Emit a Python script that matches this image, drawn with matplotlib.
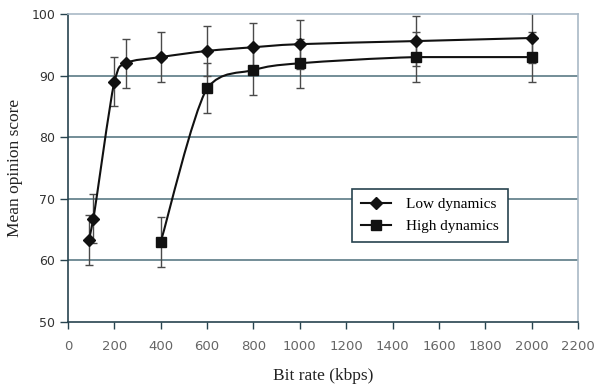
import matplotlib.pyplot as plt
import numpy as np
from matplotlib.path import Path
from matplotlib.patches import PathPatch
from matplotlib.lines import Line2D

# data
low_rate = [90, 110, 200, 250, 400, 600, 800, 1000, 1500, 2000]
low_mos = [63.3, 66.8, 89.0, 92.0, 93.0, 94.0, 94.6, 95.1, 95.6, 96.1]
low_err = [4, 4, 4, 4, 4, 4, 4, 4, 4, 4]

high_rate = [400, 600, 800, 1000, 1500, 2000]
high_mos = [63.0, 88.0, 90.9, 92.0, 93.0, 93.0]
high_err = [4, 4, 4, 4, 4, 4]

x_ticks = list(range(0, 2201, 200))
y_ticks = [50, 60, 70, 80, 90, 100]

AX_DARK = '#27434f'
GRID = '#5b7a85'


def smooth_path(xs, ys):
    # excel-like smoothed line: catmull-rom bezier, control points kept
    # inside the segment's y range so the curve does not overshoot
    pts = np.column_stack([xs, ys]).astype(float)
    n = len(pts)
    verts = [pts[0]]
    codes = [Path.MOVETO]
    for i in range(n - 1):
        p0 = pts[i - 1] if i > 0 else pts[i]
        p1 = pts[i]
        p2 = pts[i + 1]
        p3 = pts[i + 2] if i + 2 < n else pts[i + 1]
        c1 = p1 + (p2 - p0) / 6.0
        c2 = p2 - (p3 - p1) / 6.0
        lo, hi = min(p1[1], p2[1]), max(p1[1], p2[1])
        c1[1] = np.clip(c1[1], lo, hi)
        c2[1] = np.clip(c2[1], lo, hi)
        verts.extend([c1, c2, p2])
        codes.extend([Path.CURVE4] * 3)
    return Path(verts, codes)


fig = plt.figure(figsize=(5.96, 3.88), dpi=100, facecolor='white')
ax = fig.add_axes([0.114, 0.170, 0.856, 0.794])

ax.set_xlim(0, 2200)
ax.set_ylim(50, 100)

# horizontal grid
for y in y_ticks[1:-1]:
    ax.axhline(y, color=GRID, lw=1.2, zorder=1)

for xs, ys in [(low_rate, low_mos), (high_rate, high_mos)]:
    ax.add_patch(PathPatch(smooth_path(xs, ys), facecolor='none',
                           edgecolor='#111111', lw=1.5, zorder=3))

ax.errorbar(low_rate, low_mos, yerr=low_err, fmt='none', ecolor='#4a4a4a',
            elinewidth=1.0, capsize=3, capthick=1.0, zorder=2)
ax.errorbar(high_rate, high_mos, yerr=high_err, fmt='none', ecolor='#4a4a4a',
            elinewidth=1.0, capsize=3, capthick=1.0, zorder=2)
ax.plot(low_rate, low_mos, ls='none', marker='D', ms=6, color='#111111', zorder=4)
ax.plot(high_rate, high_mos, ls='none', marker='s', ms=6.5, color='#111111', zorder=4)

for side in ['top', 'right']:
    ax.spines[side].set_color('#a9b9c6')
    ax.spines[side].set_linewidth(1.2)
for side in ['left', 'bottom']:
    ax.spines[side].set_color(AX_DARK)
    ax.spines[side].set_linewidth(1.2)

ax.set_xticks(x_ticks)
ax.set_yticks(y_ticks)
ax.tick_params(axis='x', direction='out', length=5, width=1, color=AX_DARK,
               labelsize=9.5, labelcolor='#666666', pad=8)
ax.tick_params(axis='y', direction='out', length=6, width=1, color=AX_DARK,
               labelsize=9, labelcolor='#333333', pad=3)
for lab in ax.get_xticklabels() + ax.get_yticklabels():
    lab.set_family('DejaVu Sans')

ax.set_xlabel('Bit rate (kbps)', family='Liberation Serif', fontsize=12.5,
              color='#222222', labelpad=11)
ax.set_ylabel('Mean opinion score', family='Liberation Serif', fontsize=12.5,
              color='#222222', labelpad=6)

handles = [
    Line2D([0], [0], color='#111111', lw=1.5, marker='D', ms=6),
    Line2D([0], [0], color='#111111', lw=1.5, marker='s', ms=6.5),
]
leg = ax.legend(handles, ['Low dynamics', 'High dynamics'],
                loc='upper left', bbox_to_anchor=(0.557, 0.432),
                prop={'family': 'Liberation Serif', 'size': 11},
                fancybox=False, framealpha=1, edgecolor=AX_DARK,
                handlelength=2.0, borderpad=0.55, labelspacing=0.55,
                handletextpad=1.0, borderaxespad=0)
leg.get_frame().set_linewidth(1.2)

fig.savefig('out.png', dpi=100, facecolor='white')
